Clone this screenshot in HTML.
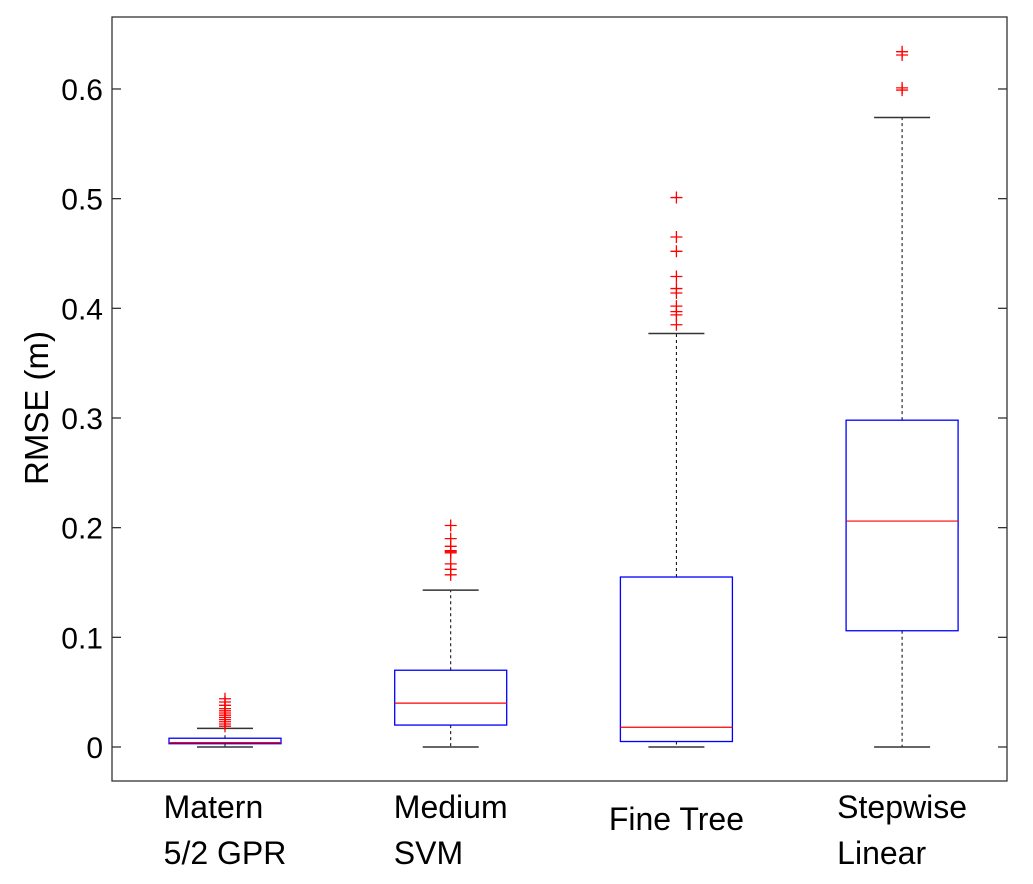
<!DOCTYPE html>
<html><head><meta charset="utf-8"><style>
body{margin:0;background:#fff;}
svg{display:block;font-family:"Liberation Sans",Arial,sans-serif;}
</style></head><body>
<svg id="chart" width="1033" height="884" xmlns="http://www.w3.org/2000/svg"></svg>
<script>
const categories = [["Matern","5/2 GPR"],["Medium","SVM"],["Fine Tree"],["Stepwise","Linear"]];
const lowerWhisker = [0, 0, 0, 0];
const q1 = [0.003, 0.020, 0.005, 0.106];
const medians = [0.004, 0.040, 0.018, 0.206];
const q3 = [0.008, 0.070, 0.155, 0.298];
const upperWhisker = [0.017, 0.143, 0.377, 0.574];
const outliers = [
  [0.044,0.041,0.038,0.035,0.033,0.031,0.029,0.027,0.025,0.023,0.021,0.019],
  [0.202,0.190,0.183,0.179,0.178,0.177,0.167,0.162,0.157],
  [0.501,0.465,0.452,0.429,0.418,0.414,0.402,0.397,0.394,0.385],
  [0.634,0.631,0.601,0.599]
];
const yTicks = [0,0.1,0.2,0.3,0.4,0.5,0.6];
const yTickLabels = ["0","0.1","0.2","0.3","0.4","0.5","0.6"];

const svg = document.getElementById('chart');
const NS = "http://www.w3.org/2000/svg";
const L=112, R=1007, T=17, B=781;
const y = v => 747 - v*1096.7;
const x = i => 225 + i*225.7;
const BW = 56, CW = 28;
function mk(tag, attrs, parent){
  const e=document.createElementNS(NS,tag);
  for(const k in attrs) e.setAttribute(k, attrs[k]);
  (parent||svg).appendChild(e); return e;
}
const frame = mk('rect',{x:L,y:T,width:R-L,height:B-T,fill:'none',stroke:'#333','stroke-width':1.3});


yTicks.forEach((t,i)=>{
  const g=mk('g',{});
  
  
  mk('line',{x1:L,x2:L+9,y1:y(t),y2:y(t),stroke:'#333','stroke-width':1.3},g);
  mk('line',{x1:R-9,x2:R,y1:y(t),y2:y(t),stroke:'#333','stroke-width':1.3},g);
  const tx=mk('text',{x:L-9,y:y(t)+11,'text-anchor':'end','font-size':30,fill:'#000'},g);
  tx.textContent=yTickLabels[i];
});
const yt=mk('text',{x:0,y:0,'text-anchor':'middle','font-size':33,fill:'#000',transform:'translate(48,408) rotate(-90)'});


yt.textContent='RMSE (m)';
categories.forEach((c,i)=>{
  const cx=x(i);
  const g=mk('g',{});
  
  
  mk('line',{x1:cx,x2:cx,y1:y(q3[i]),y2:y(upperWhisker[i]),stroke:'#000','stroke-width':1,'stroke-dasharray':'3,3'},g);
  mk('line',{x1:cx,x2:cx,y1:y(q1[i]),y2:y(lowerWhisker[i]),stroke:'#000','stroke-width':1,'stroke-dasharray':'3,3'},g);
  mk('line',{x1:cx-CW,x2:cx+CW,y1:y(upperWhisker[i]),y2:y(upperWhisker[i]),stroke:'#333','stroke-width':1.5},g);
  mk('line',{x1:cx-CW,x2:cx+CW,y1:y(lowerWhisker[i]),y2:y(lowerWhisker[i]),stroke:'#333','stroke-width':1.5},g);
  mk('rect',{x:cx-BW,y:y(q3[i]),width:2*BW,height:y(q1[i])-y(q3[i]),fill:'none',stroke:'#0000ff','stroke-width':1.3},g);
  mk('line',{x1:cx-BW,x2:cx+BW,y1:y(medians[i]),y2:y(medians[i]),stroke:'#ff0000','stroke-width':1.2},g);
  outliers[i].forEach(v=>{
    const p=mk('path',{d:`M${cx-6},${y(v)}h12M${cx},${y(v)-6}v12`,stroke:'#ff0000','stroke-width':1.3,fill:'none'},g);
    
    
  });
  const lbl=mk('text',{x:cx,'text-anchor':'start','font-size':32,fill:'#000'});
  
  
  const spans=[];
  if(c.length===1){
    spans.push(mk('tspan',{x:cx,y:830},lbl)); spans[0].textContent=c[0];
  } else {
    spans.push(mk('tspan',{x:cx,y:818},lbl)); spans[0].textContent=c[0];
    spans.push(mk('tspan',{x:cx,y:864},lbl)); spans[1].textContent=c[1];
  }
  const w=Math.max(...spans.map(s=>s.getComputedTextLength()));
  spans.forEach(s=>s.setAttribute('x', cx - w/2));
});
</script>
</body></html>
